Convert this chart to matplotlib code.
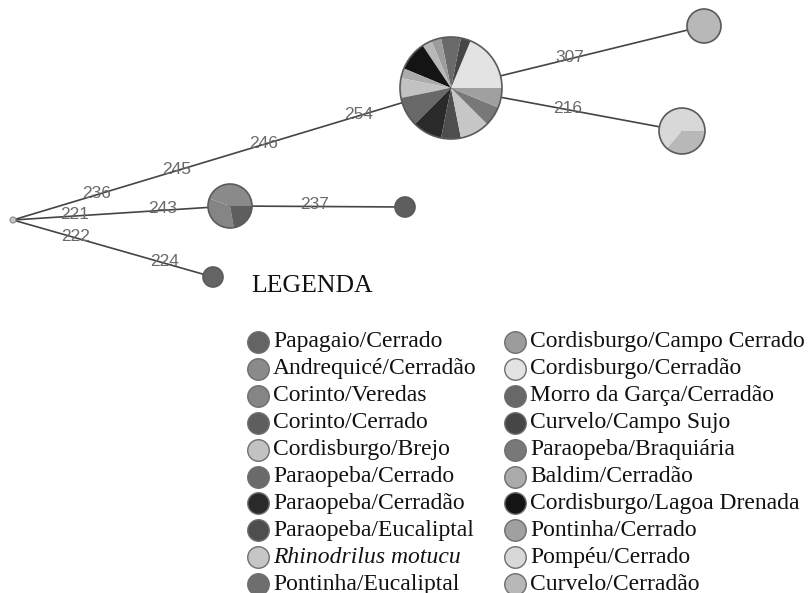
import matplotlib.pyplot as plt
from matplotlib.patches import Circle

# legend categories (two columns of ten) and their grey tones
categories = [
    'Papagaio/Cerrado', 'Andrequicé/Cerradão', 'Corinto/Veredas', 'Corinto/Cerrado',
    'Cordisburgo/Brejo', 'Paraopeba/Cerrado', 'Paraopeba/Cerradão', 'Paraopeba/Eucaliptal',
    'Rhinodrilus motucu', 'Pontinha/Eucaliptal',
    'Cordisburgo/Campo Cerrado', 'Cordisburgo/Cerradão', 'Morro da Garça/Cerradão',
    'Curvelo/Campo Sujo', 'Paraopeba/Braquiária', 'Baldim/Cerradão',
    'Cordisburgo/Lagoa Drenada', 'Pontinha/Cerrado', 'Pompéu/Cerrado', 'Curvelo/Cerradão',
]
cat_colors = [
    '#646464', '#8a8a8a', '#858585', '#5e5e5e', '#c2c2c2', '#6a6a6a', '#2a2a2a', '#4e4e4e',
    '#c6c6c6', '#6e6e6e',
    '#9c9c9c', '#e3e3e3', '#686868', '#464646', '#787878', '#ababab', '#141414', '#a0a0a0',
    '#d8d8d8', '#b8b8b8',
]
color_of = dict(zip(categories, cat_colors))

# haplotype nodes: composition of each pie
big_cats = ['Cordisburgo/Cerradão', 'Curvelo/Campo Sujo', 'Paraopeba/Cerrado',
            'Cordisburgo/Campo Cerrado', 'Curvelo/Cerradão', 'Cordisburgo/Lagoa Drenada',
            'Baldim/Cerradão', 'Cordisburgo/Brejo', 'Morro da Garça/Cerradão',
            'Paraopeba/Cerradão', 'Paraopeba/Eucaliptal', 'Rhinodrilus motucu',
            'Paraopeba/Braquiária', 'Pontinha/Cerrado']
big_counts = [6, 1, 2, 1, 1, 3, 1, 2, 3, 3, 2, 3, 2, 2]
med_cats = ['Andrequicé/Cerradão', 'Corinto/Veredas', 'Corinto/Cerrado']
med_counts = [4, 3, 2]
rmid_cats = ['Pompéu/Cerrado', 'Curvelo/Cerradão']
rmid_counts = [7, 4]
top_cats = ['Curvelo/Cerradão']
top_counts = [1]
small_cats = ['Corinto/Cerrado']
small_counts = [1]
bottom_cats = ['Papagaio/Cerrado']
bottom_counts = [1]

# edges and the mutation labels on them
edges = [('root', 'big'), ('root', 'med'), ('med', 'small'), ('root', 'bottom'),
         ('big', 'top'), ('big', 'rmid')]
edge_labels = [['236', '245', '246', '254'], ['221', '243'], ['237'], ['222', '224'],
               ['307'], ['216']]

# layout (pixel space of the figure)
node_pos = {'root': (13, 220), 'big': (451, 88), 'med': (230, 206), 'small': (405, 207),
            'bottom': (213, 277), 'top': (704, 26), 'rmid': (682, 131)}
node_r = {'big': 51, 'med': 22, 'small': 10, 'bottom': 10, 'top': 17, 'rmid': 23}
label_frac = [[0.19, 0.374, 0.571, 0.788], [0.286, 0.69], [0.486], [0.315, 0.76],
              [0.47], [0.506]]
pies = {'big': (big_cats, big_counts), 'med': (med_cats, med_counts),
        'rmid': (rmid_cats, rmid_counts), 'top': (top_cats, top_counts),
        'small': (small_cats, small_counts), 'bottom': (bottom_cats, bottom_counts)}

fig = plt.figure(figsize=(8.09, 5.93), dpi=100)
ax = fig.add_axes([0, 0, 1, 1])

for (a, b), labels, fracs in zip(edges, edge_labels, label_frac):
    (x0, y0), (x1, y1) = node_pos[a], node_pos[b]
    ax.plot([x0, x1], [y0, y1], color='#454545', lw=1.2, zorder=1)
    for lab, f in zip(labels, fracs):
        ax.text(x0 + f * (x1 - x0), y0 + f * (y1 - y0) - 1.5, lab, ha='center', va='center',
                fontsize=12.5, color='#6a6a6a', family='Liberation Sans', zorder=2)

for name, (cats, counts) in pies.items():
    cx, cy = node_pos[name]
    r = node_r[name]
    ax.pie(counts, colors=[color_of[c] for c in cats], center=(cx, cy), radius=r,
           startangle=0, counterclock=False, frame=True,
           wedgeprops=dict(linewidth=0, zorder=3))
    ax.add_patch(Circle((cx, cy), r, fill=False, edgecolor='#5a5a5a', lw=1.2, zorder=4))

ax.add_patch(Circle(node_pos['root'], 3, facecolor='#c4c4c4', edgecolor='#8a8a8a',
                    lw=0.8, zorder=4))

# legend
ax.text(251, 286, 'LEGENDA', fontsize=18.5, family='Liberation Serif', ha='left',
        va='center', color='#111111')
col_x = [258, 515]
row_y0, row_dy = 342, 26.9
for i, (cat, col) in enumerate(zip(categories, cat_colors)):
    c, r = divmod(i, 10)
    y = row_y0 + r * row_dy
    ax.scatter(col_x[c], y, s=240, facecolor=col, edgecolor='#6e6e6e', linewidth=1.0,
               zorder=5)
    ax.text(col_x[c] + 15, y, cat, fontsize=17, family='Liberation Serif', ha='left',
            va='center', color='#111111',
            style='italic' if cat == 'Rhinodrilus motucu' else 'normal')

ax.set_xlim(0, 809)
ax.set_ylim(593, 0)
ax.set_aspect('equal')
ax.axis('off')

fig.savefig('out.png', dpi=100)
